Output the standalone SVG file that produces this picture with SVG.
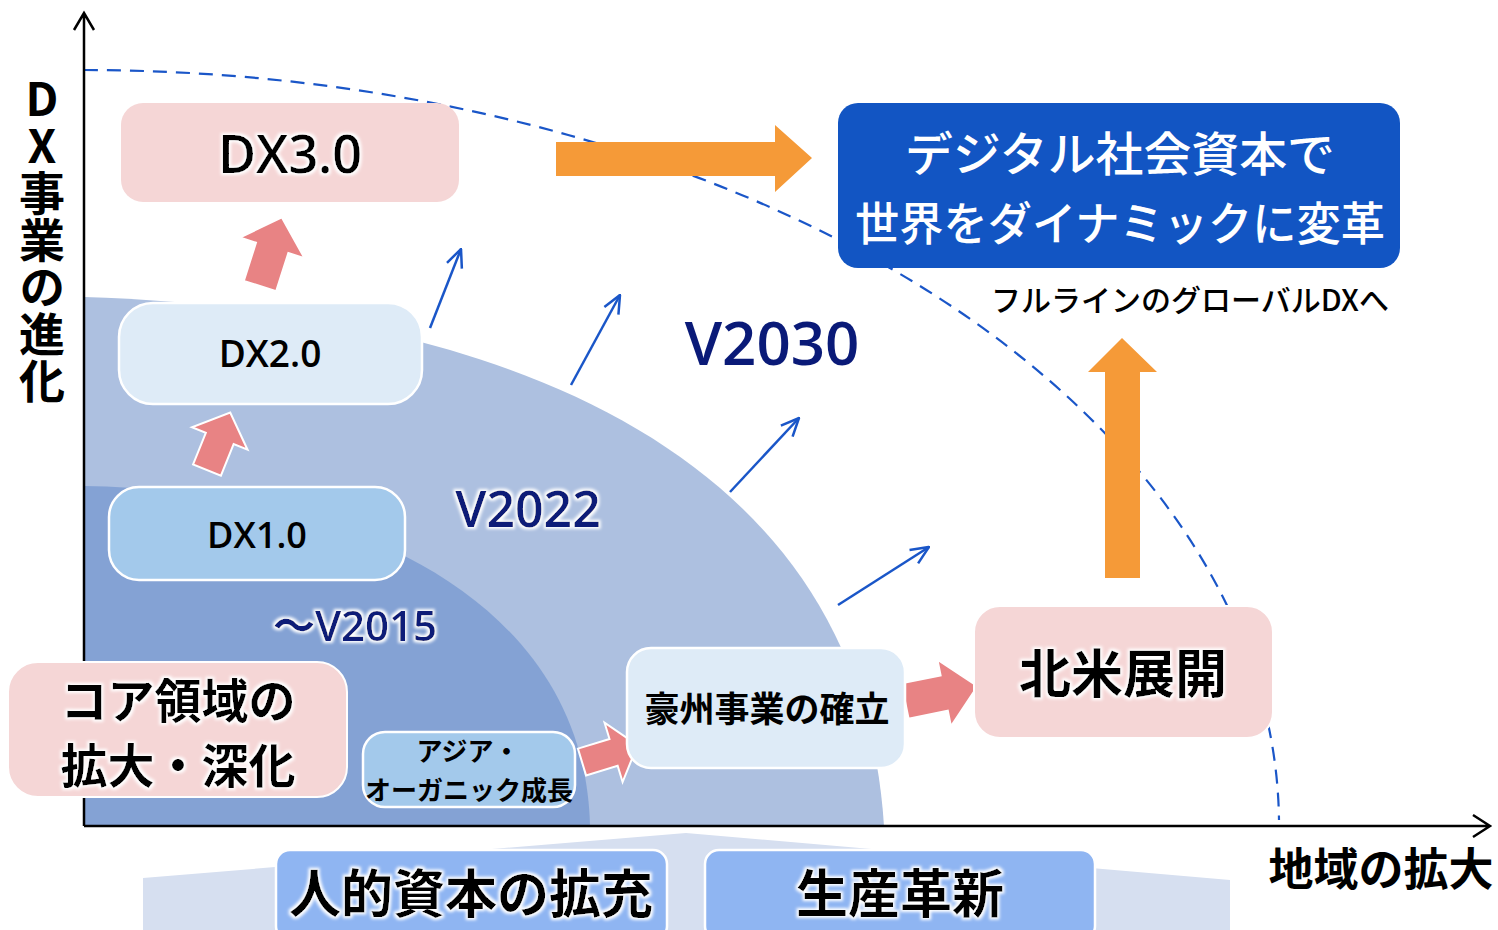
<svg xmlns="http://www.w3.org/2000/svg" width="1498" height="930" viewBox="0 0 1498 930">
<defs>
<style>
.jp{font-family:"Noto Sans CJK JP","Noto Sans",sans-serif;font-weight:700;text-anchor:middle}
.med{font-weight:500}
.lat{font-family:"Open Sans","Noto Sans","Noto Sans CJK JP",sans-serif;text-anchor:middle}
.pink{fill:#f5d6d6}
.lblue{fill:#deebf7;stroke:#fff;stroke-width:2.5}
.mblue{fill:#a3c9eb;stroke:#fff;stroke-width:2.5}
.bbox{fill:#8fb5f2;stroke:#fff;stroke-width:2.5}
.parrow{fill:#e88384;stroke:#fff;stroke-width:2}
.oarrow{fill:#f59a38}
.thin{fill:none;stroke:#1a56c8;stroke-width:2.5;marker-end:url(#open)}
.axis{fill:none;stroke:#000;stroke-width:2.5}
.navy{fill:#0a1a78}
.vert{writing-mode:vertical-rl;text-orientation:upright}
</style>
<marker id="open" viewBox="0 0 20 20" refX="19" refY="10" markerWidth="20" markerHeight="20" markerUnits="userSpaceOnUse" orient="auto">
<path d="M1,2 L19,10 L1,18" fill="none" stroke="#1a56c8" stroke-width="2.5"/>
</marker>
<filter id="glow" x="-10%" y="-30%" width="120%" height="160%">
<feMorphology in="SourceAlpha" operator="dilate" radius="2" result="d"/>
<feGaussianBlur in="d" stdDeviation="1.5" result="b"/>
<feFlood flood-color="#ffffff"/>
<feComposite in2="b" operator="in" result="g"/>
<feMerge><feMergeNode in="g"/><feMergeNode in="SourceGraphic"/></feMerge>
</filter>
</defs>
<rect width="1498" height="930" fill="#fff"/>

<g id="regions">
<path d="M84,297 C500,310 860,450 884,826 L84,826 Z" fill="#adc0e0"/>
<path d="M84,486 C350,490 585,600 590,826 L84,826 Z" fill="#84a2d4"/>
<polygon points="143,878 686,833 1230,880 1230,930 143,930" fill="#d6dff0"/>
</g>

<g id="frontier">
<path d="M84,70 A1196,756 0 0 1 1279,820" fill="none" stroke="#1a56c8" stroke-width="2.2" stroke-dasharray="14 9"/>
</g>

<g id="axes">
<path class="axis" d="M84,826 L84,14 M74,30 L84,13 L94,30"/>
<path class="axis" d="M84,826 L1489,826 M1473,815 L1490,826 L1473,837"/>
</g>

<g id="connectors">
<path class="thin" d="M430,328 L461,249"/>
<path class="thin" d="M571,385 L620,295"/>
<path class="thin" d="M730,492 L799,418"/>
<path class="thin" d="M838,605 L929,547"/>
<polygon class="parrow" transform="translate(260,286) rotate(-72.3)" points="0,-17 40,-17 40,-34 72,0 40,34 40,17 0,17"/>
<polygon class="parrow" transform="translate(207,470) rotate(-68)" points="0,-15 34,-15 34,-30 62,0 34,30 34,15 0,15"/>
<polygon class="parrow" transform="translate(582,762) rotate(-16.9)" points="0,-14 33,-14 33,-31 58,0 33,31 33,14 0,14"/>
<polygon class="parrow" transform="translate(905,701) rotate(-11.5)" points="0,-18 40,-18 40,-34 74,0 40,34 40,18 0,18"/>
<polygon class="oarrow" points="556,142 775,142 775,125 812,158 775,192 775,176 556,176"/>
<polygon class="oarrow" points="1105,578 1105,372 1088,372 1122,338 1157,372 1140,372 1140,578"/>
</g>

<g id="ylabel">
<text class="jp vert" font-size="46" x="42" y="76" letter-spacing="1" fill="#000" style="text-anchor:start">DX事業の進化</text>
</g>
<g id="xlabel">
<text class="jp" font-size="45" x="1381" y="886" fill="#000">地域の拡大</text>
</g>

<g id="dx3">
<rect class="pink" x="121" y="103" width="338" height="99" rx="22"/>
<text class="lat" font-size="52" font-weight="600" x="290" y="173" filter="url(#glow)">DX3.0</text>
</g>
<g id="dx2">
<rect class="lblue" x="119" y="303" width="303" height="101" rx="34"/>
<text class="lat" font-size="37" font-weight="600" x="270" y="367">DX2.0</text>
</g>
<g id="dx1">
<rect class="mblue" x="109" y="487" width="296" height="93" rx="30"/>
<text class="lat" font-size="36" font-weight="600" x="257" y="548">DX1.0</text>
</g>

<g id="v2030"><text class="lat navy" font-size="60" font-weight="600" x="772" y="365">V2030</text></g>
<g id="v2022"><text class="lat navy" font-size="50" font-weight="600" x="528" y="527" filter="url(#glow)">V2022</text></g>
<g id="v2015"><text class="lat navy" font-size="42" font-weight="600" x="355" y="641" filter="url(#glow)">～V2015</text></g>

<g id="core">
<rect class="pink" x="8" y="662" width="339" height="135" rx="30" stroke="#fff" stroke-width="2"/>
<text class="jp" font-size="47" x="178" y="718" filter="url(#glow)">コア領域の</text>
<text class="jp" font-size="47" x="178" y="783" filter="url(#glow)">拡大・深化</text>
</g>

<g id="asia">
<rect class="mblue" x="363" y="732" width="212" height="75" rx="22"/>
<text class="jp" font-size="26" x="468" y="761">アジア・</text>
<text class="jp" font-size="26" x="469" y="800">オーガニック成長</text>
</g>

<g id="australia">
<rect class="lblue" x="627" y="648" width="278" height="120" rx="24"/>
<text class="jp" font-size="35" x="767" y="722">豪州事業の確立</text>
</g>

<g id="na">
<rect class="pink" x="974" y="606" width="299" height="132" rx="26" stroke="#fff" stroke-width="2"/>
<text class="jp" font-size="52" x="1123" y="693" filter="url(#glow)">北米展開</text>
</g>

<g id="goal">
<rect x="838" y="103" width="562" height="165" rx="20" fill="#1255c3"/>
<text class="jp med" font-size="47" x="1120" y="171" fill="#fff" textLength="430" lengthAdjust="spacingAndGlyphs">デジタル社会資本で</text>
<text class="jp med" font-size="46" x="1120" y="240" fill="#fff" textLength="530" lengthAdjust="spacingAndGlyphs">世界をダイナミックに変革</text>
</g>

<g id="fullline">
<text class="jp med" font-size="30" x="1190" y="311" fill="#000">フルラインのグローバルDXへ</text>
</g>

<g id="human">
<rect class="bbox" x="276" y="850" width="391" height="90" rx="14"/>
<text class="jp" font-size="52" x="471" y="913" filter="url(#glow)">人的資本の拡充</text>
</g>
<g id="prod">
<rect class="bbox" x="705" y="850" width="390" height="90" rx="14"/>
<text class="jp" font-size="52" x="900" y="913" filter="url(#glow)">生産革新</text>
</g>
</svg>
